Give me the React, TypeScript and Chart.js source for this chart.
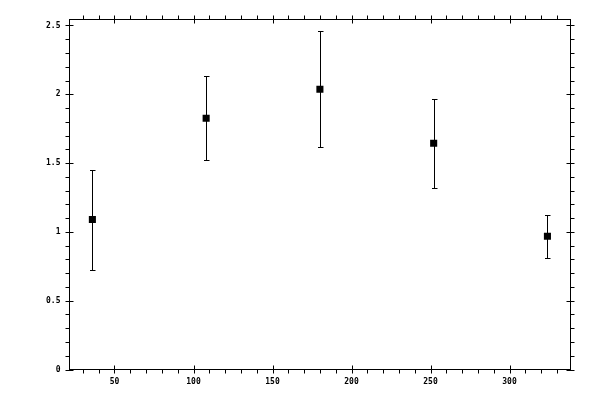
import React, { useEffect, useRef } from "react";
import { Chart, registerables } from "chart.js";

Chart.register(...registerables);

// measured values
const xValues = [36, 108, 180, 252, 324];
const yValues = [1.09, 1.826, 2.037, 1.644, 0.968];
const yUpper = [1.452, 2.134, 2.459, 1.969, 1.125];
const yLower = [0.722, 1.523, 1.615, 1.317, 0.808];

const xMin = 21.52;
const xMax = 338.6;
const yMin = 0;
const yMax = 2.5436;

const FONT = { family: "DejaVu Sans Mono", size: 8, weight: "bold" as const };

const isMult = (v: number, step: number) => Math.abs(v / step - Math.round(v / step)) < 1e-6;

const errorBars = {
	id: "errorBars",
	beforeDatasetsDraw(chart: any) {
		const { ctx, scales } = chart;
		ctx.save();
		ctx.strokeStyle = "#000";
		ctx.lineWidth = 1;
		xValues.forEach((xv, i) => {
			const px = Math.round(scales.x.getPixelForValue(xv)) + 0.5;
			const top = Math.round(scales.y.getPixelForValue(yUpper[i])) + 0.5;
			const bot = Math.round(scales.y.getPixelForValue(yLower[i])) + 0.5;
			ctx.beginPath();
			ctx.moveTo(px, top);
			ctx.lineTo(px, bot);
			ctx.moveTo(px - 2.5, top);
			ctx.lineTo(px + 3, top);
			ctx.moveTo(px - 2.5, bot);
			ctx.lineTo(px + 3, bot);
			ctx.stroke();
		});
		ctx.restore();
	},
};

// frame with major/minor ticks on all four sides
const frame = {
	id: "frame",
	afterDraw(chart: any) {
		const { ctx, chartArea, scales } = chart;
		const { left, right, top, bottom } = chartArea;
		ctx.save();
		ctx.strokeStyle = "#000";
		ctx.lineWidth = 1;
		ctx.strokeRect(left, top, right - left, bottom - top);
		ctx.beginPath();
		scales.x.ticks.forEach((t: any) => {
			if (!isMult(t.value, 10)) return;
			const px = Math.round(scales.x.getPixelForValue(t.value)) + 0.5;
			if (isMult(t.value, 50)) {
				ctx.moveTo(px, bottom - 4);
				ctx.lineTo(px, bottom + 4);
				ctx.moveTo(px, top - 4);
				ctx.lineTo(px, top + 4);
			} else {
				ctx.moveTo(px, bottom);
				ctx.lineTo(px, bottom + 4);
				ctx.moveTo(px, top - 4);
				ctx.lineTo(px, top);
			}
		});
		scales.y.ticks.forEach((t: any) => {
			if (!isMult(t.value, 0.1)) return;
			const py = Math.round(scales.y.getPixelForValue(t.value)) + 0.5;
			if (isMult(t.value, 0.5)) {
				ctx.moveTo(left - 4, py);
				ctx.lineTo(left + 4, py);
				ctx.moveTo(right - 4, py);
				ctx.lineTo(right + 4, py);
			} else {
				ctx.moveTo(left - 4, py);
				ctx.lineTo(left, py);
				ctx.moveTo(right, py);
				ctx.lineTo(right + 4, py);
			}
		});
		ctx.stroke();
		ctx.restore();
	},
};

const App: React.FC = () => {
	const canvasRef = useRef<HTMLCanvasElement>(null);
	const chartRef = useRef<Chart>();

	useEffect(() => {
		if (!canvasRef.current) return;
		if (chartRef.current) chartRef.current.destroy();

		chartRef.current = new Chart(canvasRef.current, {
			type: "scatter",
			data: {
				datasets: [
					{
						data: xValues.map((x, i) => ({ x, y: yValues[i] })),
						pointStyle: "rect",
						pointRadius: 5,
						pointBorderWidth: 0,
						backgroundColor: "#000",
						borderColor: "#000",
					},
				],
			},
			options: {
				animation: false,
				responsive: false,
				devicePixelRatio: 1,
				layout: { padding: { top: 19.5, right: 29.5, left: 0, bottom: 0 } },
				plugins: { legend: { display: false }, tooltip: { enabled: false } },
				scales: {
					x: {
						type: "linear",
						min: xMin,
						max: xMax,
						grid: { display: false, drawTicks: false },
						border: { display: false },
						afterFit: (s: any) => {
							s.height = 30.5;
						},
						ticks: {
							stepSize: 10,
							includeBounds: false,
							autoSkip: false,
							maxRotation: 0,
							padding: 8,
							color: "#000",
							font: FONT,
							callback: (v: any) => (isMult(Number(v), 50) ? String(Math.round(Number(v))) : ""),
						},
					},
					y: {
						type: "linear",
						min: yMin,
						max: yMax,
						grid: { display: false, drawTicks: false },
						border: { display: false },
						afterFit: (s: any) => {
							s.width = 69.5;
						},
						ticks: {
							stepSize: 0.1,
							includeBounds: false,
							autoSkip: false,
							padding: 9,
							color: "#000",
							font: FONT,
							callback: (v: any) => {
								const n = Number(v);
								return isMult(n, 0.5) ? String(Math.round(n * 2) / 2) : "";
							},
						},
					},
				},
			},
			plugins: [errorBars, frame],
		});

		return () => {
			if (chartRef.current) {
				chartRef.current.destroy();
				chartRef.current = undefined;
			}
		};
	}, []);

	return (
		<div style={{ position: "absolute", left: 0, top: 0, width: 600, height: 400, background: "white" }}>
			<canvas ref={canvasRef} width={600} height={400} />
		</div>
	);
};

export default App;
